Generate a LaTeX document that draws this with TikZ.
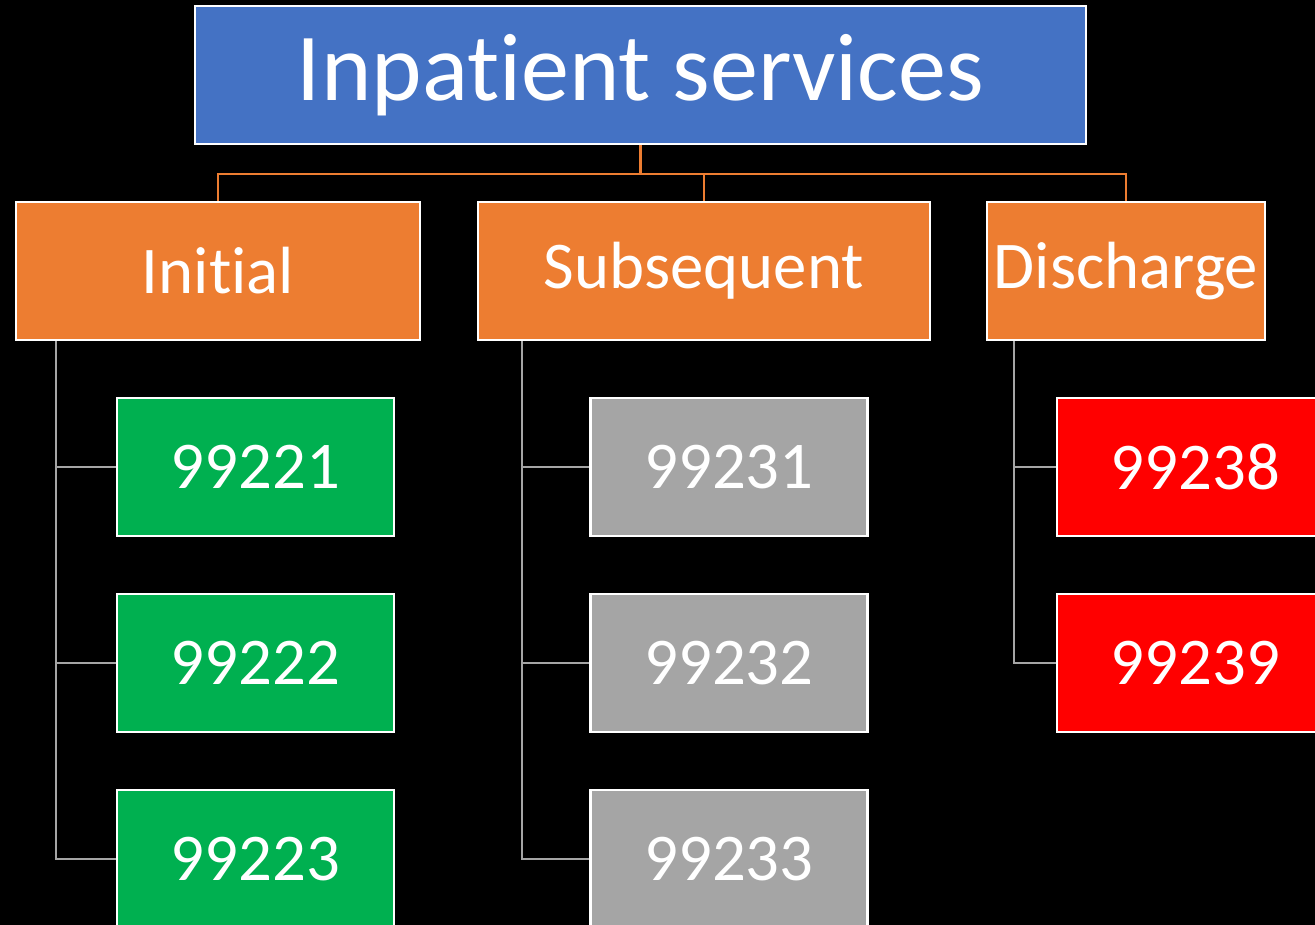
\documentclass[tikz,border=0pt]{standalone}
\usepackage{fontspec}
\setmainfont[Ligatures=NoCommon]{Carlito}
\usepackage{xcolor}
\usetikzlibrary{positioning,calc}
\definecolor{headblue}{RGB}{68,114,196}
\definecolor{catorange}{RGB}{237,125,49}
\definecolor{codegreen}{RGB}{0,176,80}
\definecolor{codegray}{RGB}{165,165,165}
\definecolor{codered}{RGB}{255,0,0}

\begin{document}
\begin{tikzpicture}[
    x=0.02cm, y=-0.02cm,
    box/.style={draw=white, line width=1.2pt, inner sep=0pt, text=white,
                minimum height=2.76cm, text centered},
    head/.style={box, fill=headblue, minimum width=17.82cm, font=\fontsize{54.7}{58}\selectfont},
    cat/.style={box, fill=catorange, font=\fontsize{38}{42}\selectfont},
    code/.style={box, minimum width=5.54cm, font=\fontsize{38}{42}\selectfont},
    bus/.style={catorange, line width=1.4pt},
    tree/.style={codegray, line width=1.6pt}
]
\useasboundingbox (0,0) rectangle (1315,925);
\clip (0,0) rectangle (1315,925);
\fill[black] (0,0) rectangle (1315,925);

% --- Top level ---
\node[head] (top) at (640.5, 75) {Inpatient services};

% --- Categories ---
\node[cat, minimum width=8.08cm] (init) at (218, 271) {Initial};
\node[cat, minimum width=9.04cm] (subs) at (704, 271) {Subsequent};
\node[cat, minimum width=5.56cm] (disc) at (1126, 271) {Discharge};

\draw[bus] (top.south) -- ++(0,29) -| (init.north);
\draw[bus] (top.south) -- ++(0,29) -| (subs.north);
\draw[bus] (top.south) -- ++(0,29) -| (disc.north);

% --- Codes ---
\node[code, fill=codegreen] (c221) at (255.5, 467) {99221};
\node[code, fill=codegreen] (c222) at (255.5, 663) {99222};
\node[code, fill=codegreen] (c223) at (255.5, 859) {99223};

\node[code, fill=codegray] (c231) at (729, 467) {99231};
\node[code, fill=codegray] (c232) at (729, 663) {99232};
\node[code, fill=codegray] (c233) at (729, 859) {99233};

\node[code, fill=codered] (c238) at (1195.5, 467) {99238};
\node[code, fill=codered] (c239) at (1195.5, 663) {99239};

% tree lines under each category
\foreach \c in {c221,c222,c223}
    \draw[tree] ([xshift=0.82cm]init.south west) |- (\c.west);
\foreach \c in {c231,c232,c233}
    \draw[tree] ([xshift=0.9cm]subs.south west) |- (\c.west);
\foreach \c in {c238,c239}
    \draw[tree] ([xshift=0.56cm]disc.south west) |- (\c.west);

\end{tikzpicture}
\end{document}
